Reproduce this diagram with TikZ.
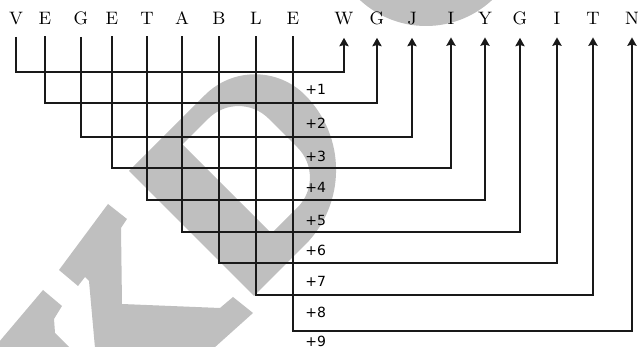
\documentclass[tikz,border=0pt]{standalone}
\usepackage{fontspec}
\newfontfamily\plusfont{DejaVu Sans}
\usetikzlibrary{arrows.meta}
\tikzset{
  link/.style={-{Stealth[length=4.2pt,width=4.6pt,inset=0.6pt]}, line width=0.9pt, color=black!90, shorten <=5.5pt, shorten >=6pt},
  ltr/.style={anchor=base, inner sep=0pt, font=\fontsize{9}{10}\selectfont},
  plus/.style={anchor=west, inner sep=0pt, font=\plusfont\fontsize{7}{8}\selectfont},
  wmark/.style={fill=black!25}
}

\begin{document}
\begin{tikzpicture}[x=0.5pt, y=-0.5pt]
\useasboundingbox (0,0) rectangle (638,347);
% watermark
\begin{scope}
  \clip (0,0) rectangle (638,347);
  \fill[wmark] (426,-71) circle [radius=97];
  \begin{scope}[x={(0.25pt,0.25pt)}, y={(0.25pt,-0.25pt)}]
    \fill[wmark, even odd rule]
      (-42,300) -- (110,300) arc[start angle=-90, end angle=0, radius=100]
      arc[start angle=0, end angle=90, radius=150] -- (-42,550) -- cycle
      (38,327) -- (90,327) arc[start angle=-90, end angle=0, radius=60]
      -- (150,445) arc[start angle=0, end angle=90, radius=60] -- (38,505) -- cycle;
  \end{scope}
  \fill[wmark] (59,270) -- (108,204) -- (127,219) -- (121,228) -- (122,304) -- (220,308)
    -- (233,297) -- (253,313) -- (214,348) -- (95,348) -- (89,281) -- (85,277) -- (78,286) -- cycle;
  \fill[wmark] (43,290) -- (62,306) -- (54,319) -- (55,333) -- (70,348) -- (-1,348) -- (-1,342) -- cycle;
\end{scope}

% letters
\node[ltr] (v) at (16,25) {V};
\node[ltr] (e1) at (45,25) {E};
\node[ltr] (g1) at (81,25) {G};
\node[ltr] (e2) at (112,25) {E};
\node[ltr] (t1) at (147,25) {T};
\node[ltr] (a) at (182,25) {A};
\node[ltr] (b) at (219,25) {B};
\node[ltr] (l) at (256,25) {L};
\node[ltr] (e3) at (293,25) {E};
\node[ltr] (w) at (344,25) {W};
\node[ltr] (g2) at (377,25) {G};
\node[ltr] (j) at (412,25) {J};
\node[ltr] (i1) at (451,25) {I};
\node[ltr] (y) at (485,25) {Y};
\node[ltr] (g3) at (520,25) {G};
\node[ltr] (i2) at (557,25) {I};
\node[ltr] (t2) at (593,25) {T};
\node[ltr] (n) at (632,25) {N};

% shift levels
\coordinate (h1) at (0,72);
\coordinate (h2) at (0,103);
\coordinate (h3) at (0,137);
\coordinate (h4) at (0,168);
\coordinate (h5) at (0,200);
\coordinate (h6) at (0,232);
\coordinate (h7) at (0,263);
\coordinate (h8) at (0,295);
\coordinate (h9) at (0,331);

\draw[link] (v.south) -- (v.south |- h1) -| (w.south);
\draw[link] (e1.south) -- (e1.south |- h2) -| (g2.south);
\draw[link] (g1.south) -- (g1.south |- h3) -| (j.south);
\draw[link] (e2.south) -- (e2.south |- h4) -| (i1.south);
\draw[link] (t1.south) -- (t1.south |- h5) -| (y.south);
\draw[link] (a.south) -- (a.south |- h6) -| (g3.south);
\draw[link] (b.south) -- (b.south |- h7) -| (i2.south);
\draw[link] (l.south) -- (l.south |- h8) -| (t2.south);
\draw[link] (e3.south) -- (e3.south |- h9) -| (n.south);

\node[plus] (p1) at (305,89) {+1};
\node[plus] (p2) at (305,123) {+2};
\node[plus] (p3) at (305,156) {+3};
\node[plus] (p4) at (305,187) {+4};
\node[plus] (p5) at (305,220) {+5};
\node[plus] (p6) at (305,250) {+6};
\node[plus] (p7) at (305,281) {+7};
\node[plus] (p8) at (305,312) {+8};
\node[plus] (p9) at (305,341) {+9};
\end{tikzpicture}
\end{document}
